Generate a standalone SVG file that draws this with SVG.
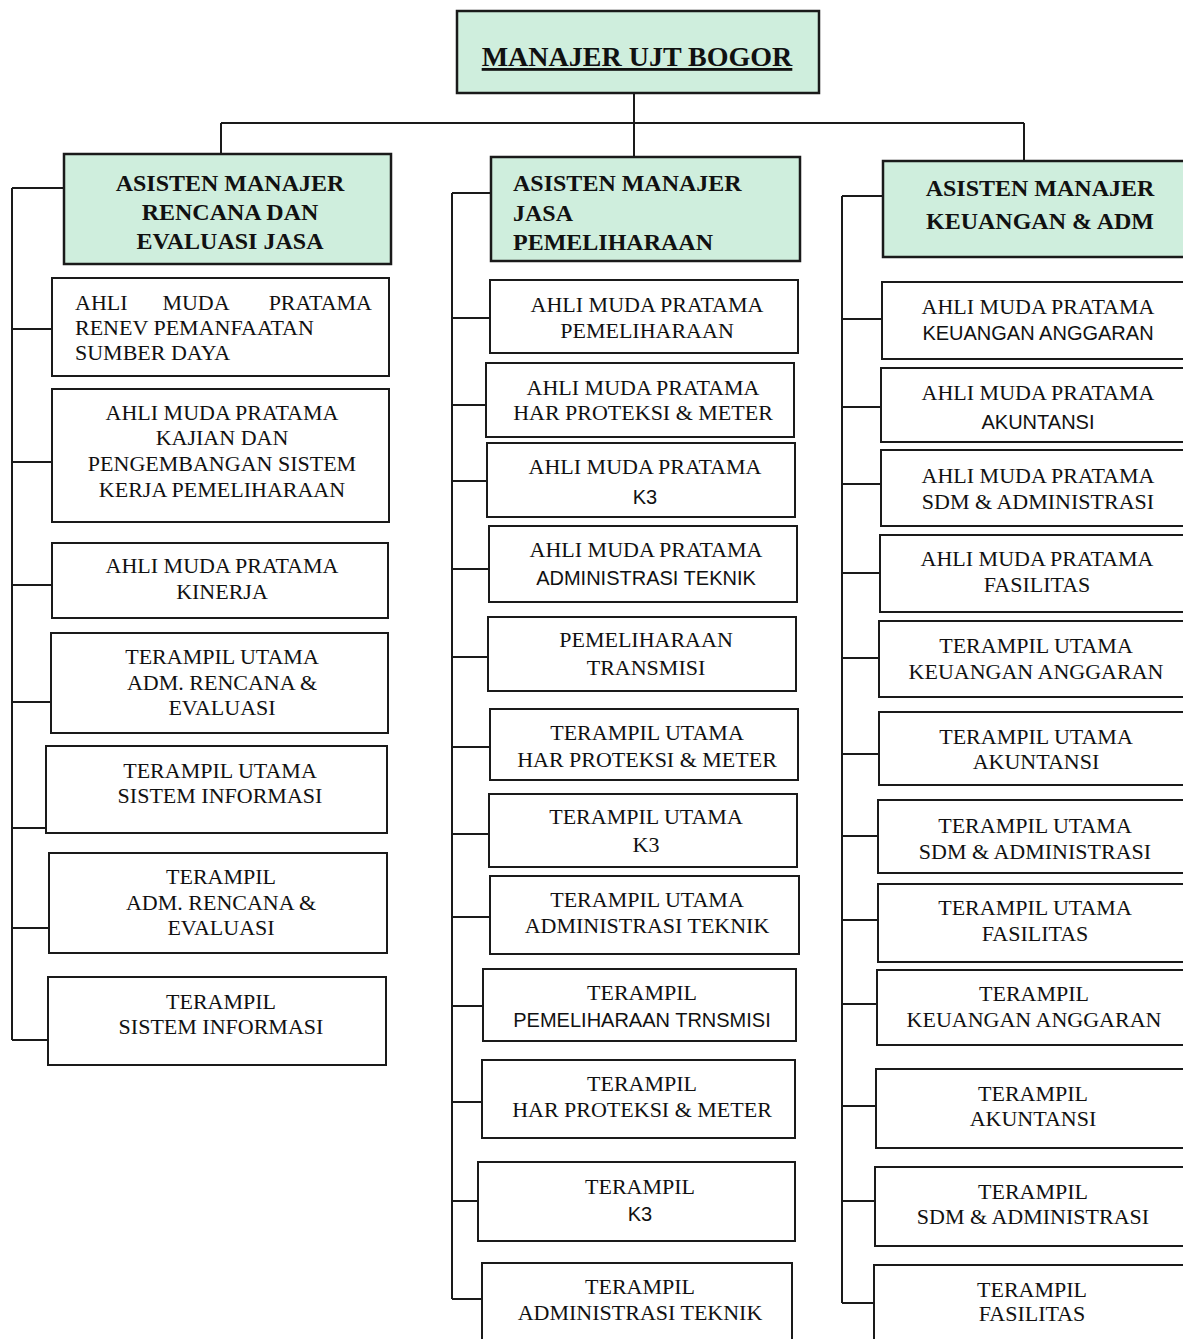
<svg xmlns="http://www.w3.org/2000/svg" width="1183" height="1339" viewBox="0 0 1183 1339">
<style>
.b{fill:#fff;stroke:#1a1a1a;stroke-width:2}
.g{fill:#cfeedd;stroke:#1a1a1a;stroke-width:2.5}
.c{fill:none;stroke:#1a1a1a;stroke-width:2}
text{font-family:"Liberation Serif","Times New Roman",serif;font-size:22px;fill:#111;text-anchor:middle}
.s{font-family:"Liberation Sans",Arial,sans-serif;font-size:20px}
.h{font-weight:bold;font-size:24px}
.l{text-anchor:start}
.e{text-anchor:end}
</style>
<rect width="1183" height="1339" fill="#fff"/>
<g id="connectors">
<path class="c" d="M634,93V157M221,123H1024M221,123V154M1024,123V161"/>
<path class="c" d="M12,188V1040M12,188H64M12,329H52M12,462H52M12,585H52M12,702H51M12,828H46M12,928H49M12,1040H48"/>
<path class="c" d="M452,193V1299M452,193H491M452,318H490M452,405H486M452,481H487M452,569H489M452,657H488M452,747H490M452,834H489M452,917H490M452,1006H483M452,1102H482M452,1201H478M452,1299H482"/>
<path class="c" d="M842,196V1303M842,196H883M842,319H882M842,407H881M842,484H881M842,573H880M842,658H879M842,754H879M842,836H878M842,920H878M842,1004H877M842,1106H876M842,1201H875M842,1303H874"/>
</g>
<g id="manajer">
<rect class="g" x="457" y="11" width="362" height="82"/>
<text x="637" y="66" style="font-weight:bold;font-size:28px;text-decoration:underline">MANAJER UJT BOGOR</text>
</g>
<g id="asmen-rencana">
<rect class="g" x="64" y="154" width="327" height="110"/>
<text class="h" x="230" y="191">ASISTEN MANAJER</text>
<text class="h" x="230" y="220">RENCANA DAN</text>
<text class="h" x="230" y="249">EVALUASI JASA</text>
</g>
<g id="asmen-jasa">
<rect class="g" x="491" y="157" width="309" height="104"/>
<text class="h l" x="513" y="191">ASISTEN MANAJER</text>
<text class="h l" x="513" y="221">JASA</text>
<text class="h l" x="513" y="250">PEMELIHARAAN</text>
</g>
<g id="asmen-keuangan">
<rect class="g" x="883" y="161" width="310" height="96"/>
<text class="h" x="1040" y="196">ASISTEN MANAJER</text>
<text class="h" x="1040" y="229">KEUANGAN &amp; ADM</text>
</g>
<!-- left column -->
<g id="l1">
<rect class="b" x="52" y="278" width="337" height="98"/>
<text class="l" x="75" y="310">AHLI</text><text x="196" y="310">MUDA</text><text class="e" x="372" y="310">PRATAMA</text>
<text class="l" x="75" y="335">RENEV PEMANFAATAN</text>
<text class="l" x="75" y="360">SUMBER DAYA</text>
</g>
<g id="l2">
<rect class="b" x="52" y="389" width="337" height="133"/>
<text x="222" y="420">AHLI MUDA PRATAMA</text>
<text x="222" y="445">KAJIAN DAN</text>
<text x="222" y="471">PENGEMBANGAN SISTEM</text>
<text x="222" y="497">KERJA PEMELIHARAAN</text>
</g>
<g id="l3">
<rect class="b" x="52" y="543" width="336" height="75"/>
<text x="222" y="573">AHLI MUDA PRATAMA</text>
<text x="222" y="599">KINERJA</text>
</g>
<g id="l4">
<rect class="b" x="51" y="633" width="337" height="100"/>
<text x="222" y="664">TERAMPIL UTAMA</text>
<text x="222" y="690">ADM. RENCANA &amp;</text>
<text x="222" y="715">EVALUASI</text>
</g>
<g id="l5">
<rect class="b" x="46" y="746" width="341" height="87"/>
<text x="220" y="778">TERAMPIL UTAMA</text>
<text x="220" y="803">SISTEM INFORMASI</text>
</g>
<g id="l6">
<rect class="b" x="49" y="853" width="338" height="100"/>
<text x="221" y="884">TERAMPIL</text>
<text x="221" y="910">ADM. RENCANA &amp;</text>
<text x="221" y="935">EVALUASI</text>
</g>
<g id="l7">
<rect class="b" x="48" y="977" width="338" height="88"/>
<text x="221" y="1009">TERAMPIL</text>
<text x="221" y="1034">SISTEM INFORMASI</text>
</g>
<!-- middle column -->
<g id="m1">
<rect class="b" x="490" y="280" width="308" height="73"/>
<text x="647" y="312">AHLI MUDA PRATAMA</text>
<text x="647" y="338">PEMELIHARAAN</text>
</g>
<g id="m2">
<rect class="b" x="486" y="363" width="308" height="74"/>
<text x="643" y="395">AHLI MUDA PRATAMA</text>
<text x="643" y="420">HAR PROTEKSI &amp; METER</text>
</g>
<g id="m3">
<rect class="b" x="487" y="443" width="308" height="74"/>
<text x="645" y="474">AHLI MUDA PRATAMA</text>
<text class="s" x="645" y="504">K3</text>
</g>
<g id="m4">
<rect class="b" x="489" y="526" width="308" height="76"/>
<text x="646" y="557">AHLI MUDA PRATAMA</text>
<text class="s" x="646" y="585">ADMINISTRASI TEKNIK</text>
</g>
<g id="m5">
<rect class="b" x="488" y="617" width="308" height="74"/>
<text x="646" y="647">PEMELIHARAAN</text>
<text x="646" y="675">TRANSMISI</text>
</g>
<g id="m6">
<rect class="b" x="490" y="709" width="308" height="71"/>
<text x="647" y="740">TERAMPIL UTAMA</text>
<text x="647" y="767">HAR PROTEKSI &amp; METER</text>
</g>
<g id="m7">
<rect class="b" x="489" y="794" width="308" height="73"/>
<text x="646" y="824">TERAMPIL UTAMA</text>
<text x="646" y="852">K3</text>
</g>
<g id="m8">
<rect class="b" x="490" y="876" width="309" height="78"/>
<text x="647" y="907">TERAMPIL UTAMA</text>
<text x="647" y="933">ADMINISTRASI TEKNIK</text>
</g>
<g id="m9">
<rect class="b" x="483" y="969" width="313" height="72"/>
<text x="642" y="1000">TERAMPIL</text>
<text class="s" x="642" y="1027">PEMELIHARAAN TRNSMISI</text>
</g>
<g id="m10">
<rect class="b" x="482" y="1060" width="313" height="78"/>
<text x="642" y="1091">TERAMPIL</text>
<text x="642" y="1117">HAR PROTEKSI &amp; METER</text>
</g>
<g id="m11">
<rect class="b" x="478" y="1162" width="317" height="79"/>
<text x="640" y="1194">TERAMPIL</text>
<text class="s" x="640" y="1221">K3</text>
</g>
<g id="m12">
<rect class="b" x="482" y="1263" width="310" height="90"/>
<text x="640" y="1294">TERAMPIL</text>
<text x="640" y="1320">ADMINISTRASI TEKNIK</text>
</g>
<!-- right column -->
<g id="r1">
<rect class="b" x="882" y="282" width="310" height="77"/>
<text x="1038" y="314">AHLI MUDA PRATAMA</text>
<text class="s" x="1038" y="340">KEUANGAN ANGGARAN</text>
</g>
<g id="r2">
<rect class="b" x="881" y="368" width="311" height="74"/>
<text x="1038" y="400">AHLI MUDA PRATAMA</text>
<text class="s" x="1038" y="429">AKUNTANSI</text>
</g>
<g id="r3">
<rect class="b" x="881" y="450" width="311" height="76"/>
<text x="1038" y="483">AHLI MUDA PRATAMA</text>
<text x="1038" y="509">SDM &amp; ADMINISTRASI</text>
</g>
<g id="r4">
<rect class="b" x="880" y="535" width="312" height="77"/>
<text x="1037" y="566">AHLI MUDA PRATAMA</text>
<text x="1037" y="592">FASILITAS</text>
</g>
<g id="r5">
<rect class="b" x="879" y="621" width="313" height="76"/>
<text x="1036" y="653">TERAMPIL UTAMA</text>
<text x="1036" y="679">KEUANGAN ANGGARAN</text>
</g>
<g id="r6">
<rect class="b" x="879" y="712" width="313" height="73"/>
<text x="1036" y="744">TERAMPIL UTAMA</text>
<text x="1036" y="769">AKUNTANSI</text>
</g>
<g id="r7">
<rect class="b" x="878" y="800" width="314" height="73"/>
<text x="1035" y="833">TERAMPIL UTAMA</text>
<text x="1035" y="859">SDM &amp; ADMINISTRASI</text>
</g>
<g id="r8">
<rect class="b" x="878" y="884" width="314" height="78"/>
<text x="1035" y="915">TERAMPIL UTAMA</text>
<text x="1035" y="941">FASILITAS</text>
</g>
<g id="r9">
<rect class="b" x="877" y="970" width="315" height="75"/>
<text x="1034" y="1001">TERAMPIL</text>
<text x="1034" y="1027">KEUANGAN ANGGARAN</text>
</g>
<g id="r10">
<rect class="b" x="876" y="1069" width="316" height="79"/>
<text x="1033" y="1101">TERAMPIL</text>
<text x="1033" y="1126">AKUNTANSI</text>
</g>
<g id="r11">
<rect class="b" x="875" y="1167" width="317" height="79"/>
<text x="1033" y="1199">TERAMPIL</text>
<text x="1033" y="1224">SDM &amp; ADMINISTRASI</text>
</g>
<g id="r12">
<rect class="b" x="874" y="1265" width="318" height="90"/>
<text x="1032" y="1297">TERAMPIL</text>
<text x="1032" y="1321">FASILITAS</text>
</g>
</svg>
